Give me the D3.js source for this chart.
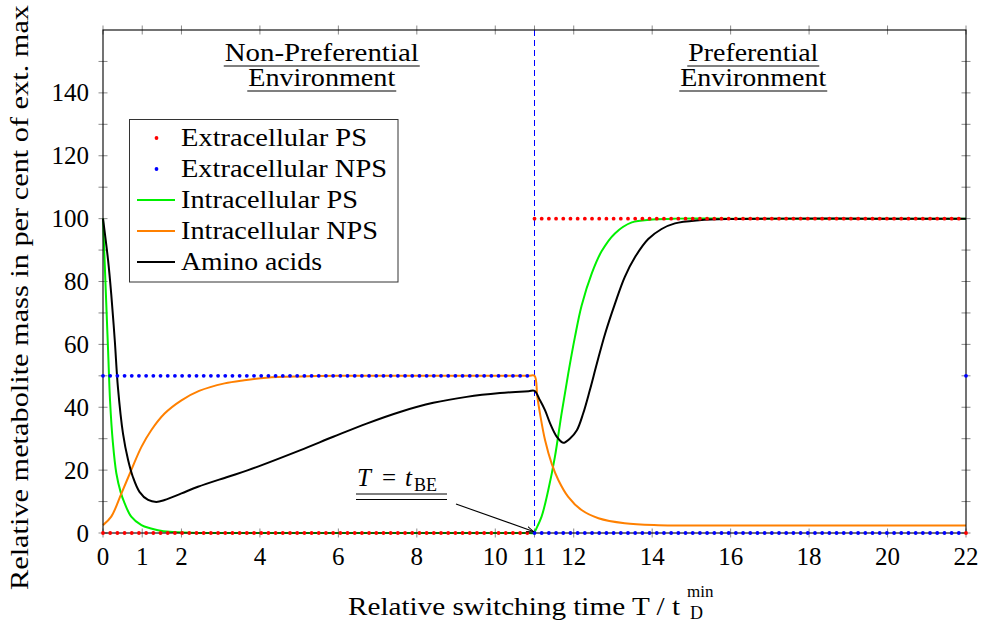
<!DOCTYPE html>
<html>
<head>
<meta charset="utf-8">
<script src="https://cdn.jsdelivr.net/npm/d3@7/dist/d3.min.js"></script>
<style>
  body { margin: 0; background: #fff; }
  text { fill: #000; }
</style>
</head>
<body>
<div id="canvas"></div>
<script>
/*
 * Values
 *
 */
const xTicks = [0, 1, 2, 4, 6, 8, 10, 11, 12, 14, 16, 18, 20, 22];
const yTicks = [0, 20, 40, 60, 80, 100, 120, 140];
const yMinorTicks = [10, 30, 50, 70, 90, 110, 130, 150];
const switchTime = 11;
const tMax = 22;
const sampleCount = 121;

// extracellular series, as runs of [number of samples, value]
const extPSRuns = [[60, 0], [60, 100], [1, 0]];
const extNPSRuns = [[60, 50], [60, 0], [1, 50]];

// intracellular / amino acid curves, [T, value]
const intraPS = [
  [0, 100], [0.08, 74], [0.13, 58], [0.18, 42], [0.25, 29], [0.34, 19], [0.45, 13],
  [0.55, 9.5], [0.72, 5.2], [0.98, 2.5], [1.2, 1.5], [1.4, 0.9], [1.7, 0.4],
  [2.2, 0.1], [3, 0], [6, 0], [9, 0], [10.85, 0], [11, 0], [11.01, 0.4],
  [11.18, 5.2], [11.35, 13.6], [11.52, 24.2], [11.69, 38], [11.86, 50.7],
  [12.03, 62.3], [12.2, 72.3], [12.46, 82.6], [12.71, 89.6], [13.05, 95.3],
  [13.48, 98.8], [14, 99.7], [14.6, 100], [16, 100], [19, 100], [22, 100]
];
const intraNPS = [
  [0, 2.5], [0.21, 5.2], [0.47, 12.6], [0.72, 20], [0.98, 27.4], [1.23, 32.7],
  [1.57, 38], [2, 42.2], [2.45, 45.2], [3.1, 47.6], [3.6, 48.6], [4.17, 49.4],
  [5, 49.8], [6, 50], [8, 50], [10, 50], [10.85, 50], [11, 50], [11.07, 43.5],
  [11.14, 38], [11.27, 29.5], [11.44, 22], [11.61, 16.8], [11.86, 11.5],
  [12.2, 7.3], [12.63, 4.7], [13.3, 3.1], [14.15, 2.5], [15, 2.4], [18, 2.4],
  [22, 2.4]
];
const aminoAcids = [
  [0, 100], [0.13, 86.7], [0.21, 76], [0.3, 61.3], [0.38, 46.4], [0.51, 31.6],
  [0.64, 23.2], [0.76, 17.9], [0.93, 13.1], [1.15, 10.5], [1.36, 9.9], [1.57, 10.5],
  [2, 12.6], [2.42, 14.7], [3.19, 17.9], [3.7, 20], [5.02, 26.3], [5.87, 30.6],
  [6.72, 34.8], [7.57, 38.5], [8.42, 41.4], [9.27, 43.3], [10.12, 44.5],
  [10.85, 45.1], [11, 45.2], [11.14, 42.2], [11.27, 39], [11.4, 34.8], [11.57, 30.6],
  [11.73, 28.7], [11.9, 30], [12.08, 32.7], [12.24, 38], [12.41, 45.4],
  [12.59, 53.9], [12.8, 63.4], [13.05, 72.9], [13.3, 81.4], [13.56, 87.7],
  [13.9, 93.5], [14.24, 96.7], [14.58, 98.5], [15.2, 99.5], [16, 99.9],
  [17, 100], [19.5, 100], [22, 100]
];

const legendLabels = ['Extracellular PS', 'Extracellular NPS', 'Intracellular PS',
  'Intracellular NPS', 'Amino acids'];
const envTitles = [
  { t: 5.5, lines: ['Non-Preferential', 'Environment'] },
  { t: 16.5, lines: ['Preferential', 'Environment'] }
];

/*
 * Sizes and colours
 *
 */
const color = {
  extPS: '#ff0000',
  extNPS: '#0000ff',
  intraPS: '#00f000',
  intraNPS: '#ff8000',
  amino: '#000000'
};
const svgWidth = 982, svgHeight = 622;
const margin = { top: 30, right: 16, bottom: 89, left: 103 };
const serif = "'Liberation Serif', 'Times New Roman', Tinos, 'Noto Serif', 'DejaVu Serif', FreeSerif, 'Nimbus Roman', serif";

const svg = d3.select('#canvas').append('svg')
  .attr('width', svgWidth)
  .attr('height', svgHeight)
  .attr('font-family', serif);

const xScale = d3.scaleLinear()
  .domain([0, tMax])
  .range([margin.left, svgWidth - margin.right]);
const yScale = d3.scaleLinear()
  .domain([0, 160])
  .range([svgHeight - margin.bottom, margin.top]);

const x0 = xScale.range()[0], x1 = xScale.range()[1];
const y0 = yScale.range()[0], y1 = yScale.range()[1];

// stretch a label to a given width (Computer Modern is wider than Times)
function fitWidth(sel, w) {
  sel.attr('textLength', w).attr('lengthAdjust', 'spacingAndGlyphs');
}

function expandRuns(runs) {
  const vals = [];
  runs.forEach(([n, v]) => { for (let k = 0; k < n; k++) vals.push(v); });
  return vals.map((v, i) => [i * tMax / (sampleCount - 1), v]);
}

/*
 * Ticks on all four sides
 *
 */
const tickColor = '#8a8a8a';
const ticks = svg.append('g').attr('stroke', tickColor).attr('stroke-width', 1);
xTicks.forEach(t => {
  [y0, y1].forEach(yy => {
    ticks.append('line')
      .attr('x1', xScale(t)).attr('x2', xScale(t))
      .attr('y1', yy - 4.5).attr('y2', yy + 4.5);
  });
});
yTicks.concat(yMinorTicks).forEach(v => {
  [x0, x1].forEach(xx => {
    ticks.append('line')
      .attr('x1', xx - 4.5).attr('x2', xx + 4.5)
      .attr('y1', yScale(v)).attr('y2', yScale(v));
  });
});

// tick labels
svg.append('g').selectAll('text')
  .data(xTicks).enter().append('text')
  .attr('x', d => xScale(d))
  .attr('y', y0 + 32)
  .attr('text-anchor', 'middle')
  .attr('font-size', 25)
  .text(d => d);

svg.append('g').selectAll('text')
  .data(yTicks).enter().append('text')
  .attr('x', x0 - 14)
  .attr('y', d => yScale(d) + 8.5)
  .attr('text-anchor', 'end')
  .attr('font-size', 25)
  .text(d => d);

/*
 * Switch marker
 *
 */
svg.append('line')
  .attr('x1', xScale(switchTime)).attr('x2', xScale(switchTime))
  .attr('y1', y1).attr('y2', y0)
  .attr('stroke', '#0000ff')
  .attr('stroke-width', 1)
  .attr('stroke-dasharray', '6,4');

/*
 * Curves
 *
 */
const line = d3.line()
  .x(d => xScale(d[0]))
  .y(d => yScale(d[1]))
  .curve(d3.curveCatmullRom.alpha(0.5));

const curves = [
  { data: intraPS, color: color.intraPS },
  { data: intraNPS, color: color.intraNPS },
  { data: aminoAcids, color: color.amino }
];
svg.append('g').selectAll('path')
  .data(curves).enter().append('path')
  .attr('d', d => line(d.data))
  .attr('fill', 'none')
  .attr('stroke', d => d.color)
  .attr('stroke-width', 2)
  .attr('stroke-linejoin', 'round');

// frame
svg.append('rect')
  .attr('x', x0).attr('y', y1)
  .attr('width', x1 - x0).attr('height', y0 - y1)
  .attr('fill', 'none')
  .attr('stroke', '#000')
  .attr('stroke-width', 1.1);

// extracellular dots
const dotSeries = [
  { data: expandRuns(extNPSRuns), color: color.extNPS },
  { data: expandRuns(extPSRuns), color: color.extPS }
];
dotSeries.forEach(s => {
  svg.append('g').selectAll('circle')
    .data(s.data).enter().append('circle')
    .attr('cx', d => xScale(d[0]))
    .attr('cy', d => yScale(d[1]))
    .attr('r', 1.9)
    .attr('fill', s.color);
});

/*
 * Environment titles, underlined
 *
 */
const titleWidths = [[194, 147], [130, 146]];
envTitles.forEach((env, j) => {
  env.lines.forEach((txt, i) => {
    const baseY = 61 + i * 25;
    const w = titleWidths[j][i];
    const cx = xScale(env.t) + 3;
    const t = svg.append('text')
      .attr('x', cx - w / 2)
      .attr('y', baseY)
      .attr('font-size', 25)
      .text(txt);
    fitWidth(t, w);
    svg.append('line')
      .attr('x1', cx - w / 2 - 1).attr('x2', cx + w / 2 + 1)
      .attr('y1', baseY + 5).attr('y2', baseY + 5)
      .attr('stroke', '#555')
      .attr('stroke-width', 1.3);
  });
});

/*
 * Legend
 *
 */
const legend = svg.append('g');
legend.append('rect')
  .attr('x', 129.5).attr('y', 119.5)
  .attr('width', 268.5).attr('height', 162.5)
  .attr('fill', '#fff')
  .attr('stroke', '#333')
  .attr('stroke-width', 1);
const legendKinds = [
  { type: 'dot', color: color.extPS, w: 186 },
  { type: 'dot', color: color.extNPS, w: 206 },
  { type: 'line', color: color.intraPS, w: 177 },
  { type: 'line', color: color.intraNPS, w: 197 },
  { type: 'line', color: color.amino, w: 141 }
];
legendLabels.forEach((lab, i) => {
  const cy = 138 + i * 31;
  const k = legendKinds[i];
  if (k.type === 'dot') {
    legend.append('circle').attr('cx', 156.5).attr('cy', cy).attr('r', 1.9).attr('fill', k.color);
  } else {
    legend.append('line')
      .attr('x1', 137).attr('x2', 175)
      .attr('y1', cy).attr('y2', cy)
      .attr('stroke', k.color).attr('stroke-width', 2);
  }
  const t = legend.append('text')
    .attr('x', 181)
    .attr('y', cy + 8)
    .attr('font-size', 25)
    .text(lab);
  fitWidth(t, k.w);
});

/*
 * Annotation T = t_BE
 *
 */
const ann = svg.append('g').attr('font-size', 25);
ann.append('text').attr('x', 357).attr('y', 486).attr('font-style', 'italic').text('T');
ann.append('text').attr('x', 382).attr('y', 486).text('=');
ann.append('text').attr('x', 405).attr('y', 486).attr('font-style', 'italic').text('t');
ann.append('text').attr('x', 414).attr('y', 491).attr('font-size', 18).text('BE');
[494, 499.5].forEach(yy => {
  svg.append('line')
    .attr('x1', 356).attr('x2', 447)
    .attr('y1', yy).attr('y2', yy)
    .attr('stroke', '#000').attr('stroke-width', 1.2);
});

svg.append('defs').append('marker')
  .attr('id', 'arrow')
  .attr('viewBox', '0 0 10 10')
  .attr('refX', 9).attr('refY', 5)
  .attr('markerWidth', 7).attr('markerHeight', 7)
  .attr('orient', 'auto')
  .append('path')
  .attr('d', 'M0,1.5 L9,5 L0,8.5')
  .attr('fill', 'none')
  .attr('stroke', '#000')
  .attr('stroke-width', 1.2);

svg.append('line')
  .attr('x1', 456).attr('y1', 504)
  .attr('x2', xScale(switchTime) - 1).attr('y2', yScale(0) - 1.5)
  .attr('stroke', '#000')
  .attr('stroke-width', 1.1)
  .attr('marker-end', 'url(#arrow)');

/*
 * Axis labels
 *
 */
const yLabel = svg.append('text')
  .attr('transform', 'translate(28,590) rotate(-90)')
  .attr('font-size', 25)
  .text('Relative metabolite mass in per cent of ext.  max');
fitWidth(yLabel, 585);

const xLabel = svg.append('text')
  .attr('x', 348)
  .attr('y', 615)
  .attr('font-size', 25)
  .text('Relative switching time T / t');
fitWidth(xLabel, 332);
svg.append('text')
  .attr('x', 687).attr('y', 597)
  .attr('font-size', 17)
  .text('min');
svg.append('text')
  .attr('x', 690).attr('y', 619)
  .attr('font-size', 18)
  .text('D');
</script>
</body>
</html>
